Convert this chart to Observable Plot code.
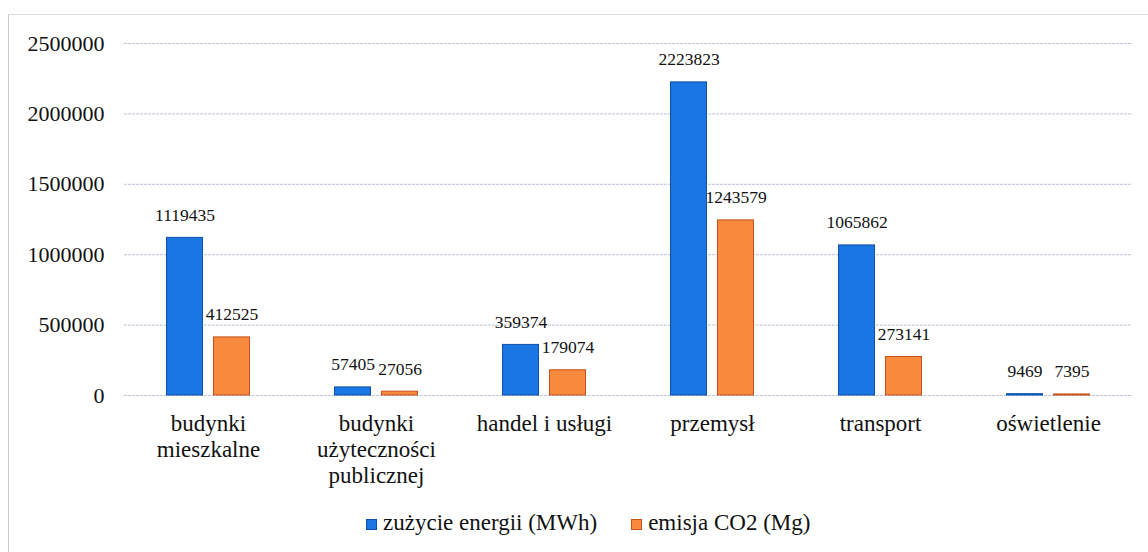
<!DOCTYPE html>
<html>
<head>
<meta charset="utf-8">
<script src="https://cdn.jsdelivr.net/npm/d3@7"></script>
<script src="https://cdn.jsdelivr.net/npm/@observablehq/plot@0.6"></script>
<style>
  html, body { margin: 0; padding: 0; background: #fff; }
  #wrap { position: relative; width: 1148px; height: 552px; overflow: hidden; font-family: "Liberation Serif", "DejaVu Serif", serif; }
  #frame { position: absolute; left: 8px; top: 14px; width: 1150px; height: 560px; border-left: 1px solid #c9c9c9; border-top: 1px solid #dcdcdc; pointer-events: none; }
  #chart { position: absolute; left: 0; top: 0; }
  #chart svg, #chart svg text { font-family: "Liberation Serif", "DejaVu Serif", serif !important; }
  #legend { position: absolute; left: 366px; top: 510px; height: 26px; line-height: 26px; display: flex; align-items: center; font-size: 23px; color: #111; white-space: nowrap; }
  .sw { display: inline-block; width: 11px; height: 11px; margin-right: 6px; margin-top: 3px; box-sizing: border-box; }
  .item { display: flex; align-items: center; margin-right: 34px; }
</style>
</head>
<body>
<div id="wrap">
  <div id="frame"></div>
  <div id="chart"></div>
  <div id="legend"></div>
</div>
<script>
const categories = ["budynki mieszkalne", "budynki użyteczności publicznej", "handel i usługi", "przemysł", "transport", "oświetlenie"];
const categoryLabels = ["budynki\nmieszkalne", "budynki\nużyteczności\npublicznej", "handel i usługi", "przemysł", "transport", "oświetlenie"];
const seriesNames = ["zużycie energii (MWh)", "emisja CO2 (Mg)"];
const energy = [1119435, 57405, 359374, 2223823, 1065862, 9469];
const co2 = [412525, 27056, 179074, 1243579, 273141, 7395];
const yTicks = [0, 500000, 1000000, 1500000, 2000000, 2500000];
const colors = ["#1a76e3", "#f78a3d"];
const strokes = ["#0d4fa8", "#c8501a"];

const data = [];
categories.forEach((c, i) => {
  data.push({cat: c, series: seriesNames[0], value: energy[i]});
  data.push({cat: c, series: seriesNames[1], value: co2[i]});
});
const labelOf = new Map(categories.map((c, i) => [c, categoryLabels[i]]));

const chart = Plot.plot({
  width: 1148,
  height: 500,
  marginLeft: 123.5,
  marginRight: 16.5,
  marginTop: 43,
  marginBottom: 105,
  style: {fontFamily: "'Liberation Serif', serif", background: "transparent", color: "#111"},
  fx: {domain: categories, padding: 0, label: null},
  x: {domain: seriesNames, paddingInner: 0.229, paddingOuter: 0.865, axis: null},
  y: {domain: [0, 2500000], label: null},
  color: {domain: seriesNames, range: colors},
  marks: [
    Plot.gridY(yTicks, {stroke: "#aab6d2", strokeOpacity: 0.8, strokeDasharray: "3,1", strokeWidth: 1}),
    Plot.axisY(yTicks, {tickSize: 0, tickPadding: 20, fontSize: 22, label: null, tickFormat: d => String(d)}),
    Plot.axisFx({anchor: "bottom", tickSize: 0, tickPadding: 17, fontSize: 23, lineHeight: 1.13, label: null, tickFormat: d => labelOf.get(d)}),
    Plot.barY(data, {fx: "cat", x: "series", y: "value", fill: "series",
      stroke: d => strokes[seriesNames.indexOf(d.series)], strokeWidth: 1}),
    Plot.text(data, {fx: "cat", x: "series", y: "value", text: d => String(d.value),
      lineAnchor: "bottom", dy: -17, fontSize: 17.5, fill: "#111"})
  ]
});
document.getElementById("chart").appendChild(chart);

const legend = document.getElementById("legend");
seriesNames.forEach((s, i) => {
  const it = document.createElement("div");
  it.className = "item";
  const sw = document.createElement("span");
  sw.className = "sw";
  sw.style.background = colors[i];
  sw.style.border = "1px solid " + strokes[i];
  it.appendChild(sw);
  const t = document.createElement("span");
  t.textContent = s;
  it.appendChild(t);
  legend.appendChild(it);
});
</script>
</body>
</html>
